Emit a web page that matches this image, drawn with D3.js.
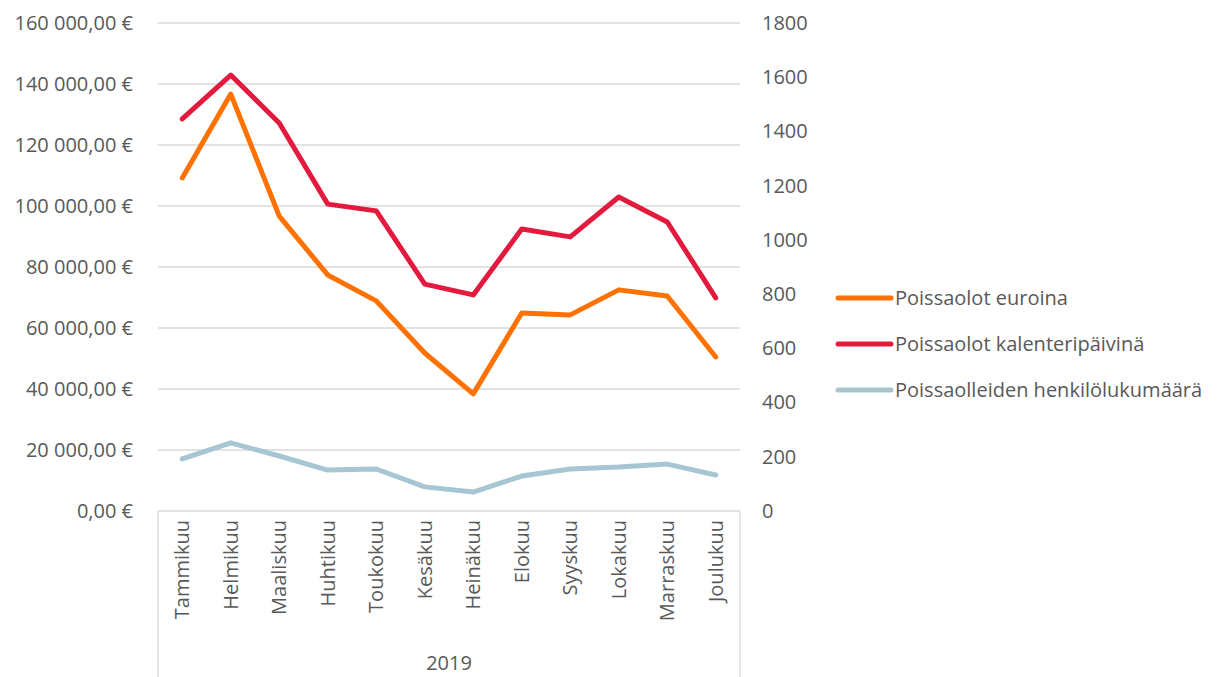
<!DOCTYPE html>
<html>
<head>
<meta charset="utf-8">
<script src="https://cdn.jsdelivr.net/npm/d3@7"></script>
<style>
  body { margin: 0; background: #fff; }
  text { font-family: "Open Sans", "Noto Sans", sans-serif; fill: #595959; }
</style>
</head>
<body>
<div id="chart"></div>
<script>
var months = ["Tammikuu", "Helmikuu", "Maaliskuu", "Huhtikuu", "Toukokuu", "Kesäkuu",
  "Heinäkuu", "Elokuu", "Syyskuu", "Lokakuu", "Marraskuu", "Joulukuu"];
var euros = [109200, 136700, 96700, 77400, 68900, 51800, 38400, 64900, 64300, 72500, 70500, 50500];
var days = [1446, 1608, 1431, 1132, 1107, 837, 797, 1040, 1011, 1158, 1066, 786];
var persons = [192, 251, 203, 151, 155, 89, 70, 129, 155, 162, 173, 133];
var leftTicks = [0, 20000, 40000, 60000, 80000, 100000, 120000, 140000, 160000];
var rightTicks = [0, 200, 400, 600, 800, 1000, 1200, 1400, 1600, 1800];
var seriesNames = ["Poissaolot euroina", "Poissaolot kalenteripäivinä", "Poissaolleiden henkilölukumäärä"];
var colors = ["#FF7100", "#E31A3D", "#A5C6D2"];

var svgWidth = 1224;
var svgHeight = 677;
var margin = { top: 23, right: 484, bottom: 166, left: 158 };
var width = svgWidth - margin.left - margin.right;
var height = svgHeight - margin.top - margin.bottom;
var fontSize = "20px";

var svg = d3.select("#chart")
  .append("svg")
  .attr("width", svgWidth)
  .attr("height", svgHeight);

var chartGroup = svg.append("g")
  .attr("transform", `translate(${margin.left}, ${margin.top})`);

var xScale = d3.scaleBand().domain(months).range([0, width]);
var yLeft = d3.scaleLinear().domain([0, 160000]).range([height, 0]);
var yRight = d3.scaleLinear().domain([0, 1800]).range([height, 0]);

// gridlines
chartGroup.selectAll(".grid")
  .data(leftTicks)
  .enter()
  .append("line")
  .attr("x1", 0)
  .attr("x2", width)
  .attr("y1", d => yLeft(d))
  .attr("y2", d => yLeft(d))
  .attr("stroke", "#d9d9d9")
  .attr("stroke-width", 1.3);

// category box lines below axis
chartGroup.append("line")
  .attr("x1", 0).attr("x2", 0)
  .attr("y1", height).attr("y2", svgHeight - margin.top)
  .attr("stroke", "#d9d9d9").attr("stroke-width", 1.3);
chartGroup.append("line")
  .attr("x1", width).attr("x2", width)
  .attr("y1", height).attr("y2", svgHeight - margin.top)
  .attr("stroke", "#d9d9d9").attr("stroke-width", 1.3);

var formatEuro = d => d3.format(",.2f")(d).replace(/,/g, " ").replace(".", ",") + " €";

// left axis
var leftAxis = d3.axisLeft(yLeft).tickValues(leftTicks).tickSize(0).tickPadding(25).tickFormat(formatEuro);
var lg = chartGroup.append("g").call(leftAxis);
lg.select(".domain").remove();
lg.selectAll("text").style("font-size", fontSize).style("font-family", null).attr("fill", "#595959");

// right axis
var rightAxis = d3.axisRight(yRight).tickValues(rightTicks).tickSize(0).tickPadding(22).tickFormat(d3.format("d"));
var rg = chartGroup.append("g").attr("transform", `translate(${width}, 0)`).call(rightAxis);
rg.select(".domain").remove();
rg.selectAll("text").style("font-size", fontSize).attr("fill", "#595959");
lg.attr("font-family", null);
rg.attr("font-family", null);

// month labels
chartGroup.selectAll(".month")
  .data(months)
  .enter()
  .append("text")
  .attr("transform", d => `translate(${xScale(d) + xScale.bandwidth() / 2 + 7}, ${height + 9}) rotate(-90)`)
  .attr("text-anchor", "end")
  .style("font-size", fontSize)
  .text(d => d);

chartGroup.append("text")
  .attr("x", width / 2)
  .attr("y", height + 159)
  .attr("text-anchor", "middle")
  .style("font-size", fontSize)
  .text("2019");

// lines
var series = [
  { values: euros, scale: yLeft },
  { values: days, scale: yRight },
  { values: persons, scale: yRight }
];

series.forEach(function(s, i) {
  var line = d3.line()
    .x((d, j) => xScale(months[j]) + xScale.bandwidth() / 2)
    .y(d => s.scale(d));
  chartGroup.append("path")
    .datum(s.values)
    .attr("d", line)
    .attr("fill", "none")
    .attr("stroke", colors[i])
    .attr("stroke-width", 5)
    .attr("stroke-linejoin", "round")
    .attr("stroke-linecap", "round");
});

// legend
var legend = svg.append("g").attr("transform", "translate(836, 298)");
seriesNames.forEach(function(name, i) {
  var g = legend.append("g").attr("transform", `translate(0, ${i * 46})`);
  g.append("line")
    .attr("x1", 2).attr("x2", 55)
    .attr("y1", 0).attr("y2", 0)
    .attr("stroke", colors[i])
    .attr("stroke-width", 5)
    .attr("stroke-linecap", "round");
  g.append("text")
    .attr("x", 59)
    .attr("y", 0)
    .attr("dy", "0.35em")
    .style("font-size", fontSize)
    .text(name);
});
</script>
</body>
</html>
